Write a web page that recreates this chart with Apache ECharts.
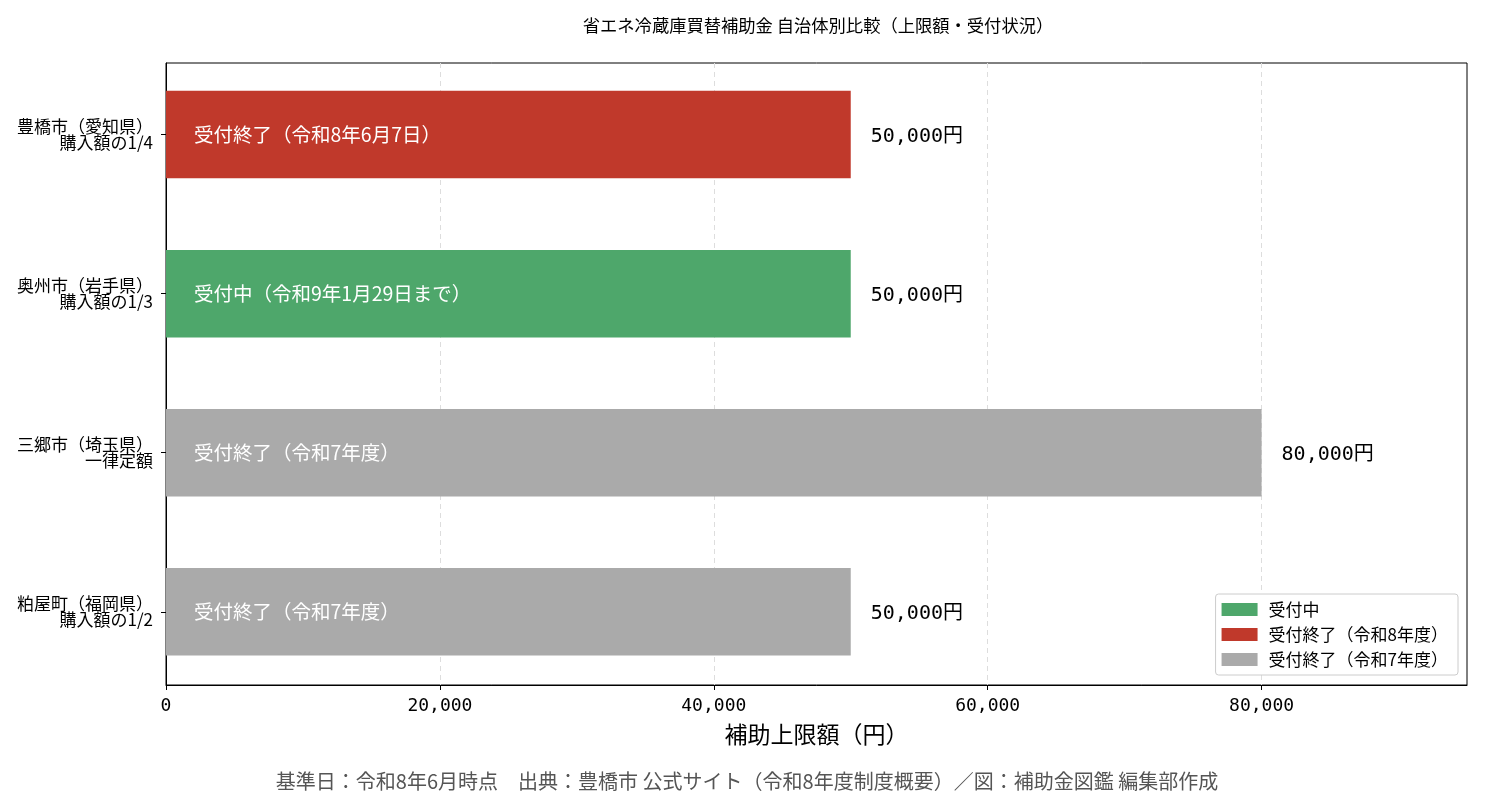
<!DOCTYPE html>
<html>
<head>
<meta charset="utf-8">
<script src="https://cdn.jsdelivr.net/npm/echarts@6/dist/echarts.min.js"></script>
<style>html,body{margin:0;padding:0;background:#fff;}#c{width:1485px;height:809px;}</style>
</head>
<body>
<div id="c"></div>
<script>
const categories = ['豊橋市（愛知県）\n購入額の1/4', '奥州市（岩手県）\n購入額の1/3', '三郷市（埼玉県）\n一律定額', '粕屋町（福岡県）\n購入額の1/2'];
const values = [50000, 50000, 80000, 50000];
const statuses = ['受付終了（令和8年度）', '受付中', '受付終了（令和7年度）', '受付終了（令和7年度）'];
const barTexts = ['受付終了（令和8年6月7日）', '受付中（令和9年1月29日まで）', '受付終了（令和7年度）', '受付終了（令和7年度）'];
const legendNames = ['受付中', '受付終了（令和8年度）', '受付終了（令和7年度）'];
const legendColors = ['#4ea76b', '#c0392b', '#aaaaaa'];
const xTicks = [0, 20000, 40000, 60000, 80000];
const yTicks = [0, 1, 2, 3];

const CJK = '"Noto Sans CJK JP", "Noto Sans", sans-serif';
const MONO = '"DejaVu Sans Mono", "Noto Sans CJK JP", monospace';

function fmt(v) { return v.toLocaleString('en-US'); }

function renderItem(params, api) {
  const idx = api.value(1);
  const p0 = api.coord([0, idx]);
  const p1 = api.coord([api.value(0), idx]);
  const h = api.size([0, 0.55])[1];
  return {
    type: 'group',
    children: [
      { type: 'rect', shape: { x: p0[0], y: p0[1] - h / 2, width: p1[0] - p0[0], height: h },
        style: { fill: api.visual('color') } },
      { type: 'text', x: p0[0] + 28, y: p0[1],
        style: { text: barTexts[idx], fill: '#ffffff', fontSize: 19.5, fontFamily: CJK, verticalAlign: 'middle', align: 'left' } },
      { type: 'text', x: p1[0] + 20, y: p1[1] + 2,
        style: { text: fmt(api.value(0)) + '円', fill: '#000000', fontSize: 20, fontFamily: MONO, verticalAlign: 'middle', align: 'left' } }
    ]
  };
}

const series = legendNames.map((name, k) => ({
  name: name,
  type: 'custom',
  renderItem: renderItem,
  itemStyle: { color: legendColors[k] },
  encode: { x: 0, y: 1 },
  data: values.map((v, i) => [v, i]).filter((d, i) => statuses[i] === name)
}));

const chart = echarts.init(document.getElementById('c'), null, { renderer: 'canvas' });
chart.setOption({
  animation: false,
  backgroundColor: '#ffffff',
  title: [
    { text: '省エネ冷蔵庫買替補助金 自治体別比較（上限額・受付状況）', left: 813, top: 12, textAlign: 'center',
      textStyle: { fontSize: 17.3, fontWeight: 'normal', color: '#000', fontFamily: CJK } },
    { text: '基準日：令和8年6月時点　出典：豊橋市 公式サイト（令和8年度制度概要）／図：補助金図鑑 編集部作成',
      left: 742, top: 766, textAlign: 'center',
      textStyle: { fontSize: 20, fontWeight: 'normal', color: '#555', fontFamily: CJK } }
  ],
  grid: { left: 166, right: 18, top: 63, bottom: 124, show: true, borderColor: '#000', borderWidth: 1, backgroundColor: 'transparent' },
  legend: {
    orient: 'vertical', right: 27, bottom: 134,
    data: legendNames.map(n => ({ name: n, icon: 'rect' })),
    itemWidth: 36, itemHeight: 13, itemGap: 8,
    padding: [7, 10, 7, 6],
    backgroundColor: '#fff', borderColor: '#cccccc', borderWidth: 1, borderRadius: 3,
    textStyle: { fontSize: 17, color: '#000', fontFamily: CJK, padding: [0, 0, 0, 6] },
    selectedMode: false
  },
  xAxis: {
    type: 'value', min: 0, max: 95000,
    name: '補助上限額（円）', nameLocation: 'middle', nameGap: 38,
    nameTextStyle: { fontSize: 23, color: '#000', fontFamily: CJK },
    axisLine: { show: true, onZero: false, lineStyle: { color: '#000', width: 1 } },
    axisTick: { show: true, length: 5, inside: false, customValues: xTicks, lineStyle: { color: '#000' } },
    axisLabel: { customValues: xTicks, formatter: v => fmt(v), fontSize: 18, color: '#000', fontFamily: MONO, margin: 12 },
    splitLine: { show: true, lineStyle: { color: '#dddddd', type: [5, 4], width: 1 } }
  },
  yAxis: {
    type: 'value', inverse: true, min: -0.45, max: 3.46,
    axisLine: { show: true, onZero: false, lineStyle: { color: '#000', width: 1 } },
    axisTick: { show: true, length: 5, customValues: yTicks, lineStyle: { color: '#000' } },
    axisLabel: { customValues: yTicks, formatter: v => categories[Math.round(v)] || '', fontSize: 17, lineHeight: 16,
      color: '#000', fontFamily: CJK, margin: 13, align: 'right' },
    splitLine: { show: false }
  },
  series: series
});
</script>
</body>
</html>
